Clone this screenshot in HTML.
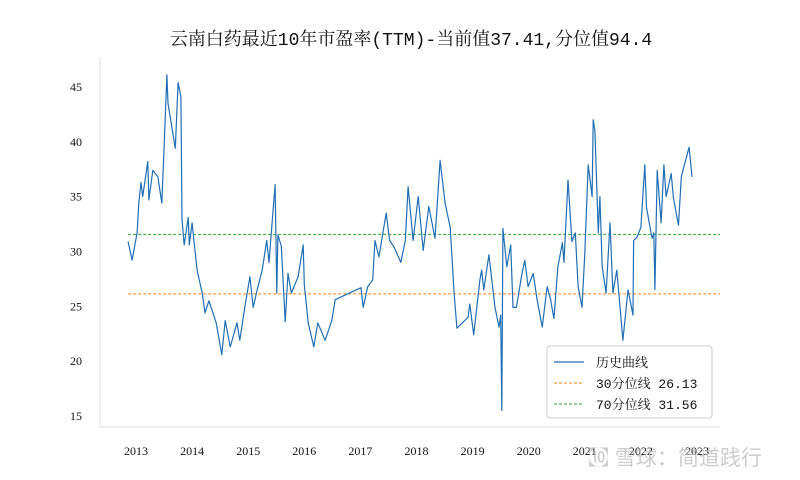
<!DOCTYPE html>
<html><head><meta charset="utf-8"><style>
body{margin:0;background:#fff;}
svg{display:block;}
</style></head><body>
<svg id="chart" width="800" height="480" viewBox="0 0 800 480" xmlns="http://www.w3.org/2000/svg">
<rect width="800" height="480" fill="#fff"/>
<text x="411" y="45" text-anchor="middle" font-family="'Liberation Mono','Noto Serif CJK SC',monospace" font-size="18" fill="#111">云南白药最近10年市盈率(TTM)-当前值37.41,分位值94.4</text>
<line x1="100" y1="57" x2="100" y2="427" stroke="#ddd" stroke-width="1"/>
<line x1="100" y1="427" x2="720" y2="427" stroke="#ddd" stroke-width="1"/>
<g id="yticks"></g><g id="xticks"></g><g id="refs"></g><g id="series"></g>
<text x="588" y="465" font-family="'Liberation Sans','Noto Sans CJK SC',sans-serif" font-size="21" fill="#bbb" opacity="0.75">㉈ 雪球：简道践行</text>
<g>
<rect x="547" y="346" width="165" height="72" rx="3" fill="#fff" fill-opacity="0.85" stroke="#ccc"/>
<line x1="554" y1="362" x2="584" y2="362" stroke="#1f6fb4" stroke-width="1.3"/>
<text x="596" y="367" font-family="'Liberation Mono','Noto Serif CJK SC',monospace" font-size="13" fill="#111">历史曲线</text>
<line x1="554" y1="383" x2="584" y2="383" stroke="#ff7f0e" stroke-width="1" stroke-dasharray="3,2"/>
<text x="596" y="388" font-family="'Liberation Mono','Noto Serif CJK SC',monospace" font-size="13" fill="#111">30分位线 26.13</text>
<line x1="554" y1="404" x2="584" y2="404" stroke="#2ca02c" stroke-width="1" stroke-dasharray="3,2"/>
<text x="596" y="409" font-family="'Liberation Mono','Noto Serif CJK SC',monospace" font-size="13" fill="#111">70分位线 31.56</text>
</g>
</svg>
<script>
const dates=[2012.86,2012.93,2013.02,2013.05,2013.09,2013.12,2013.21,2013.23,2013.3,2013.39,2013.46,2013.5,2013.55,2013.57,2013.64,2013.7,2013.75,2013.8,2013.82,2013.86,2013.93,2013.95,2014.0,2014.09,2014.18,2014.23,2014.3,2014.43,2014.53,2014.59,2014.68,2014.8,2014.85,2014.94,2015.03,2015.09,2015.16,2015.25,2015.33,2015.37,2015.48,2015.51,2015.53,2015.59,2015.66,2015.71,2015.77,2015.89,2015.98,2016.0,2016.07,2016.17,2016.24,2016.37,2016.49,2016.55,2017.01,2017.05,2017.13,2017.22,2017.26,2017.33,2017.46,2017.52,2017.6,2017.72,2017.8,2017.85,2017.94,2018.03,2018.12,2018.22,2018.33,2018.42,2018.51,2018.6,2018.67,2018.72,2018.92,2018.95,2019.02,2019.13,2019.16,2019.2,2019.29,2019.4,2019.47,2019.5,2019.52,2019.54,2019.61,2019.68,2019.72,2019.78,2019.88,2019.93,2019.99,2020.08,2020.15,2020.24,2020.33,2020.39,2020.45,2020.52,2020.6,2020.63,2020.7,2020.77,2020.83,2020.88,2020.95,2021.0,2021.06,2021.13,2021.15,2021.18,2021.24,2021.27,2021.31,2021.38,2021.45,2021.5,2021.57,2021.68,2021.77,2021.86,2021.87,2021.93,2022.0,2022.07,2022.1,2022.2,2022.23,2022.25,2022.29,2022.36,2022.41,2022.45,2022.54,2022.58,2022.65,2022.67,2022.72,2022.78,2022.86,2022.91];
const peValues=[30.9,29.2,31.7,34.4,36.3,35.0,38.2,34.7,37.4,36.8,34.4,39.5,46.1,43.5,41.3,39.4,45.4,44.1,32.9,30.6,33.1,30.6,32.6,28.3,26.2,24.4,25.5,23.5,20.6,23.7,21.3,23.5,21.9,24.9,27.7,24.9,26.5,28.3,31.0,29.0,36.1,26.2,31.5,30.5,23.6,28.0,26.2,27.7,30.6,27.0,23.5,21.3,23.5,21.9,23.7,25.6,26.7,24.9,26.8,27.4,31.0,29.5,33.5,31.0,30.4,29.0,31.0,35.9,31.0,35.0,30.1,34.1,31.2,38.3,34.4,32.2,26.2,23.0,24.0,25.2,22.4,27.4,28.3,26.5,29.7,24.9,23.1,24.2,15.5,32.1,28.6,30.6,24.9,24.9,28.0,29.2,26.8,28.0,25.6,23.1,26.8,25.6,23.9,28.6,30.8,29.0,36.5,30.9,31.7,26.8,24.9,29.8,37.9,35.0,42.0,41.0,31.7,35.0,28.6,26.2,32.6,26.2,28.3,21.9,26.5,24.2,31.0,31.3,32.2,37.9,34.0,31.2,31.7,26.5,37.4,32.6,37.9,35.0,37.1,34.9,32.9,32.4,36.8,38.0,39.5,36.8];
const yTicks=[15,20,25,30,35,40,45];
const xTickYears=[2013,2014,2015,2016,2017,2018,2019,2020,2021,2022,2023];
const p30=26.13, p70=31.56;
const NS='http://www.w3.org/2000/svg';
const xs=t=>136+(t-2013)*56.1;
const ys=v=>416-(v-15)*10.97;
function mk(tag,attrs,parent){const e=document.createElementNS(NS,tag);for(const k in attrs)e.setAttribute(k,attrs[k]);parent.appendChild(e);return e;}
const yg=document.getElementById('yticks');
yTicks.forEach(v=>{
  const t=mk('text',{x:82,y:ys(v)+4,'text-anchor':'end','font-family':"'Liberation Serif',serif",'font-size':12,fill:'#111'},yg);
  
  
  t.textContent=v;
});
const xg=document.getElementById('xticks');
xTickYears.forEach(y=>{
  const t=mk('text',{x:xs(y),y:455,'text-anchor':'middle','font-family':"'Liberation Serif',serif",'font-size':12,fill:'#111'},xg);
  
  
  t.textContent=y;
});
const rg=document.getElementById('refs');
const l30=mk('line',{x1:xs(dates[0]),x2:720,y1:ys(p30),y2:ys(p30),stroke:'#ff7f0e','stroke-width':1,'stroke-dasharray':'3,2'},rg);


const l70=mk('line',{x1:xs(dates[0]),x2:720,y1:ys(p70),y2:ys(p70),stroke:'#2ca02c','stroke-width':1,'stroke-dasharray':'3,2'},rg);


const sg=document.getElementById('series');
const pts=dates.map((d,i)=>xs(d).toFixed(1)+','+ys(peValues[i]).toFixed(1)).join(' ');
const pl=mk('polyline',{points:pts,fill:'none',stroke:'#1f6fb4','stroke-width':1.2,'stroke-linejoin':'round'},sg);


</script>
</body></html>
